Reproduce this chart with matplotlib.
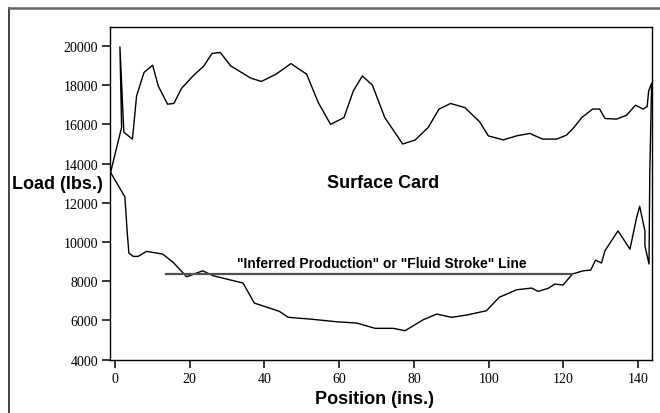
import numpy as np
import matplotlib
matplotlib.use("Agg")
import matplotlib.pyplot as plt
from matplotlib.lines import Line2D

# ================================
# Surface card data
# ================================
up_pos = [-1.15, 1.8, 1.35, 2.4, 4.7, 5.8, 7.8, 10.1, 11.6, 14.1, 15.8, 17.8,
          20.9, 23.8, 26.0, 28.2, 31.0, 36.4, 39.2, 43.1, 47.1, 51.3, 54.4,
          57.7, 61.3, 63.8, 66.2, 68.9, 72.2, 77.0, 80.3, 83.8, 86.7, 89.8,
          93.6, 97.6, 99.9, 103.9, 107.5, 111.0, 114.4, 118.2, 120.8, 122.8,
          124.9, 127.8, 129.7, 131.1, 134.2, 136.9, 139.3, 141.3, 142.4,
          142.8, 143.6, 143.1]
up_load = [13550, 15850, 19950, 15600, 15250, 17450, 18650, 19020, 17960,
           17030, 17070, 17830, 18470, 18980, 19620, 19665, 18980, 18355,
           18190, 18560, 19100, 18560, 17120, 16000, 16350, 17710, 18470,
           18000, 16350, 15000, 15200, 15840, 16776, 17066, 16860, 16130,
           15415, 15210, 15415, 15540, 15250, 15250, 15450, 15840, 16350,
           16780, 16780, 16300, 16270, 16470, 16980, 16780, 16910, 17700,
           18100, 13500]

down_pos = [142.9, 141.8, 141.8, 140.4, 139.6, 137.8, 134.6, 131.1, 130.2,
            128.6, 127.3, 125.3, 122.4, 119.9, 117.7, 115.9, 113.2, 111.5,
            107.5, 102.8, 99.4, 94.1, 90.1, 86.1, 82.5, 77.6, 74.5, 69.6,
            64.7, 59.3, 52.2, 46.4, 44.0, 37.3, 34.3, 26.3, 23.5, 19.2, 15.6,
            12.8, 8.5, 6.2, 4.9, 3.75, 3.3, 2.68, -1.15]
down_load = [8880, 9810, 10570, 11820, 11260, 9640, 10570, 9555, 8930, 9080,
             8570, 8535, 8370, 7807, 7858, 7638, 7486, 7654, 7567, 7180, 6497,
             6278, 6161, 6329, 6038, 5478, 5600, 5600, 5870, 5936, 6074, 6161,
             6466, 6889, 7909, 8281, 8535, 8230, 8963, 9387, 9524, 9269, 9269,
             9437, 10492, 12300, 13550]

fluid_pos = [13.8, 122.2]
fluid_load = [8380, 8380]

x_ticks = [0, 20, 40, 60, 80, 100, 120, 140]
y_ticks = [4000, 6000, 8000, 10000, 12000, 14000, 16000, 18000, 20000]

# ================================
# Plot
# ================================
fig = plt.figure(figsize=(6.6, 4.14), dpi=100)
ax = fig.add_axes([0.1667, 0.1287, 0.8212, 0.8029])

ax.plot(up_pos + down_pos, up_load + down_load, color="black", lw=1.0)
ax.plot(fluid_pos, fluid_load, color="#505050", lw=1.6)

ax.set_xlim(-1.3, 143.7)
ax.set_ylim(4000, 20950)
ax.set_xticks(x_ticks)
ax.set_yticks(y_ticks)
ax.tick_params(direction="out", length=6, width=1.1, pad=2.5,
               labelsize=10, top=False, right=False)
for lab in ax.get_xticklabels() + ax.get_yticklabels():
    lab.set_fontfamily("Liberation Serif")
for sp in ax.spines.values():
    sp.set_linewidth(1.0)
    sp.set_color("black")

ax.text(56.8, 12816, "Surface Card", fontsize=13, fontweight="bold",
        family="Liberation Sans", ha="left", va="baseline")
ax.text(32.6, 8709, '"Inferred Production" or "Fluid Stroke" Line',
        fontsize=10, fontweight="bold", family="Liberation Sans",
        ha="left", va="baseline")

fig.text(0.018, 0.5428, "Load (lbs.)", fontsize=13, fontweight="bold",
         family="Liberation Sans", ha="left", va="baseline")
fig.text(0.568, 0.0242, "Position (ins.)", fontsize=13, fontweight="bold",
         family="Liberation Sans", ha="center", va="baseline")

# outer frame (left and top edges visible)
fig.add_artist(Line2D([8.5 / 660, 8.5 / 660], [0, 1 - 9 / 414],
                      transform=fig.transFigure, color="#333333", lw=1.3))
fig.add_artist(Line2D([8.5 / 660, 1], [1 - 9 / 414, 1 - 9 / 414],
                      transform=fig.transFigure, color="#666666", lw=1.8))

fig.savefig("out.png", dpi=100)
